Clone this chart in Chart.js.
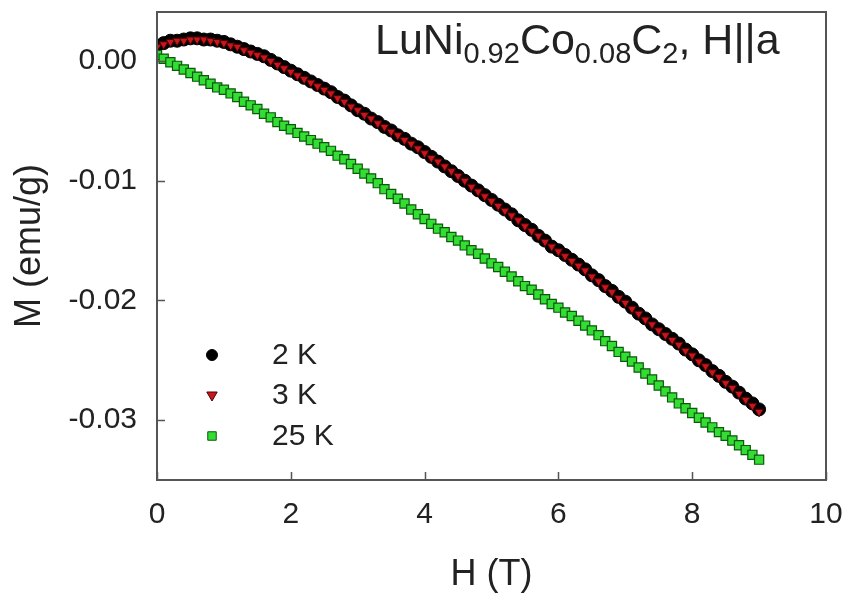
<!DOCTYPE html>
<html>
<head>
<meta charset="utf-8">
<title>LuNi0.92Co0.08C2 M(H)</title>
<script src="https://cdn.jsdelivr.net/npm/chart.js@4/dist/chart.umd.min.js"></script>
<style>
  html, body { margin: 0; padding: 0; background: #fff; }
  #wrap { width: 855px; height: 599px; }
</style>
</head>
<body>
<div id="wrap"><canvas id="mhChart" width="855" height="599"></canvas></div>
<script>
// field values (T), shared by the three sweeps
const fieldH = [
  0.0, 0.1, 0.2, 0.3, 0.4, 0.5, 0.6, 0.7, 0.8, 0.9,
  1.0, 1.1, 1.2, 1.3, 1.4, 1.5, 1.6, 1.7, 1.8, 1.9,
  2.0, 2.1, 2.2, 2.3, 2.4, 2.5, 2.6, 2.7, 2.8, 2.9,
  3.0, 3.1, 3.2, 3.3, 3.4, 3.5, 3.6, 3.7, 3.8, 3.9,
  4.0, 4.1, 4.2, 4.3, 4.4, 4.5, 4.6, 4.7, 4.8, 4.9,
  5.0, 5.1, 5.2, 5.3, 5.4, 5.5, 5.6, 5.7, 5.8, 5.9,
  6.0, 6.1, 6.2, 6.3, 6.4, 6.5, 6.6, 6.7, 6.8, 6.9,
  7.0, 7.1, 7.2, 7.3, 7.4, 7.5, 7.6, 7.7, 7.8, 7.9,
  8.0, 8.1, 8.2, 8.3, 8.4, 8.5, 8.6, 8.7, 8.8, 8.9,
  9.0
];

// M (emu/g) at 2 K
const m2K = [
  0.0013, 0.0015, 0.0017, 0.0017, 0.0018, 0.0019, 0.0019, 0.0018, 0.0018, 0.0017,
  0.0016, 0.0014, 0.0012, 0.0010, 0.0008, 0.0006, 0.0004, 0.0001, -0.0002, -0.0005,
  -0.0008, -0.0011, -0.0014, -0.0017, -0.0020, -0.0023, -0.0026, -0.0030, -0.0033, -0.0037,
  -0.0041, -0.0044, -0.0048, -0.0051, -0.0055, -0.0058, -0.0062, -0.0065, -0.0069, -0.0072,
  -0.0076, -0.0080, -0.0084, -0.0088, -0.0092, -0.0096, -0.0100, -0.0104, -0.0108, -0.0112,
  -0.0116, -0.0120, -0.0124, -0.0128, -0.0133, -0.0137, -0.0141, -0.0146, -0.0150, -0.0155,
  -0.0158, -0.0162, -0.0166, -0.0170, -0.0174, -0.0179, -0.0183, -0.0188, -0.0192, -0.0197,
  -0.0201, -0.0206, -0.0211, -0.0215, -0.0220, -0.0224, -0.0228, -0.0232, -0.0236, -0.0241,
  -0.0245, -0.0250, -0.0254, -0.0259, -0.0263, -0.0268, -0.0272, -0.0277, -0.0282, -0.0286,
  -0.0291
];

// M (emu/g) at 3 K
const m3K = [
  0.0012, 0.0014, 0.0016, 0.0017, 0.0017, 0.0018, 0.0018, 0.0018, 0.0017, 0.0016,
  0.0015, 0.0013, 0.0012, 0.0009, 0.0007, 0.0005, 0.0003, 0.0000, -0.0003, -0.0006,
  -0.0009, -0.0012, -0.0015, -0.0018, -0.0021, -0.0024, -0.0027, -0.0031, -0.0034, -0.0038,
  -0.0041, -0.0045, -0.0048, -0.0052, -0.0055, -0.0059, -0.0062, -0.0066, -0.0069, -0.0073,
  -0.0077, -0.0081, -0.0084, -0.0088, -0.0092, -0.0096, -0.0100, -0.0105, -0.0109, -0.0113,
  -0.0117, -0.0121, -0.0125, -0.0129, -0.0133, -0.0138, -0.0142, -0.0146, -0.0151, -0.0155,
  -0.0159, -0.0163, -0.0167, -0.0171, -0.0175, -0.0180, -0.0184, -0.0189, -0.0193, -0.0198,
  -0.0202, -0.0207, -0.0211, -0.0216, -0.0220, -0.0225, -0.0229, -0.0233, -0.0237, -0.0242,
  -0.0246, -0.0251, -0.0255, -0.0260, -0.0264, -0.0269, -0.0273, -0.0278, -0.0283, -0.0288,
  -0.0293
];

// M (emu/g) at 25 K
const m25K = [
  0.0005, 0.0002, -0.0001, -0.0004, -0.0007, -0.0010, -0.0013, -0.0016, -0.0019, -0.0022,
  -0.0024, -0.0027, -0.0030, -0.0034, -0.0037, -0.0040, -0.0044, -0.0047, -0.0051, -0.0054,
  -0.0057, -0.0060, -0.0063, -0.0066, -0.0069, -0.0072, -0.0075, -0.0079, -0.0082, -0.0086,
  -0.0090, -0.0094, -0.0098, -0.0102, -0.0107, -0.0111, -0.0115, -0.0119, -0.0124, -0.0128,
  -0.0132, -0.0136, -0.0140, -0.0143, -0.0147, -0.0150, -0.0154, -0.0158, -0.0161, -0.0165,
  -0.0169, -0.0172, -0.0176, -0.0180, -0.0184, -0.0188, -0.0191, -0.0195, -0.0199, -0.0203,
  -0.0206, -0.0210, -0.0213, -0.0217, -0.0221, -0.0225, -0.0229, -0.0234, -0.0238, -0.0243,
  -0.0247, -0.0251, -0.0256, -0.0261, -0.0266, -0.0271, -0.0276, -0.0281, -0.0286, -0.0290,
  -0.0294, -0.0298, -0.0302, -0.0306, -0.0310, -0.0313, -0.0317, -0.0321, -0.0325, -0.0329,
  -0.0333
];

const seriesNames = ["2 K", "3 K", "25 K"];
const xTicks = [0, 2, 4, 6, 8, 10];
const yTicks = [0, -0.01, -0.02, -0.03];

function toPoints(ys) {
  return fieldH.map((h, i) => ({ x: h, y: ys[i] }));
}

const FONT = "'Liberation Sans', Arial, sans-serif";
const PLOT = { left: 157, top: 12, right: 826, bottom: 480 };

// frame, inward ticks, legend and formula label
const decorations = {
  id: "decorations",
  afterDatasetsDraw(chart) {
    const ctx = chart.ctx;
    const a = chart.chartArea;
    const xs = chart.scales.x, ys = chart.scales.y;
    ctx.save();
    ctx.strokeStyle = "#555";
    ctx.lineWidth = 2;
    ctx.strokeRect(a.left, a.top, a.right - a.left, a.bottom - a.top);

    ctx.lineWidth = 1.5;
    ctx.beginPath();
    xTicks.forEach(v => {
      const px = Math.round(xs.getPixelForValue(v)) + 0.5;
      ctx.moveTo(px, a.bottom);
      ctx.lineTo(px, a.bottom - 8);
    });
    yTicks.forEach(v => {
      const py = Math.round(ys.getPixelForValue(v)) + 0.5;
      ctx.moveTo(a.left, py);
      ctx.lineTo(a.left + 8, py);
    });
    ctx.stroke();

    // legend
    const rows = [355, 395, 436];
    chart.data.datasets.forEach((ds, i) => {
      ctx.fillStyle = ds.backgroundColor;
      ctx.strokeStyle = ds.borderColor;
      ctx.lineWidth = 1;
      Chart.helpers.drawPoint(ctx, {
        pointStyle: ds.pointStyle,
        radius: ds.legendRadius,
        rotation: ds.rotation || 0,
        borderWidth: 1
      }, 212, rows[i]);
      ctx.fillStyle = "#222";
      ctx.font = "30px " + FONT;
      ctx.textBaseline = "middle";
      ctx.textAlign = "left";
      ctx.fillText(seriesNames[i], 272, rows[i] + 1);
    });

    // compound label with subscripts
    const parts = [
      ["LuNi", false], ["0.92", true], ["Co", false], ["0.08", true],
      ["C", false], ["2", true], [", H||a", false]
    ];
    let x = 375;
    const base = 54;
    ctx.fillStyle = "#222";
    ctx.textBaseline = "alphabetic";
    parts.forEach(([t, sub]) => {
      ctx.font = (sub ? "29px " : "43px ") + FONT;
      ctx.fillText(t, x, sub ? base + 9 : base);
      x += ctx.measureText(t).width;
    });
    ctx.restore();
  }
};

document.addEventListener("DOMContentLoaded", function () {
  const ctx = document.getElementById("mhChart").getContext("2d");

  new Chart(ctx, {
    type: "scatter",
    data: {
      datasets: [
        {
          label: seriesNames[0],
          data: toPoints(m2K),
          pointStyle: "circle",
          pointRadius: 6.5,
          legendRadius: 5.5,
          backgroundColor: "#000",
          borderColor: "#000",
          pointBorderWidth: 1,
          order: 2
        },
        {
          label: seriesNames[1],
          data: toPoints(m3K),
          pointStyle: "triangle",
          rotation: 180,
          pointRotation: 180,
          pointRadius: 5,
          legendRadius: 6,
          backgroundColor: "#c8161d",
          borderColor: "#4a0000",
          pointBorderWidth: 1,
          order: 1
        },
        {
          label: seriesNames[2],
          data: toPoints(m25K),
          pointStyle: "rect",
          pointRadius: 6.5,
          legendRadius: 6,
          backgroundColor: "#33dd33",
          borderColor: "#0a5a0a",
          pointBorderWidth: 1.2,
          order: 0
        }
      ]
    },
    options: {
      responsive: false,
      animation: false,
      events: [],
      layout: { padding: { top: PLOT.top, right: 855 - PLOT.right, left: 0, bottom: 0 } },
      plugins: { legend: { display: false }, tooltip: { enabled: false } },
      scales: {
        x: {
          type: "linear",
          min: 0,
          max: 10,
          afterFit(scale) {
            scale.height = 599 - PLOT.bottom;
            scale.paddingLeft = 0;
            scale.paddingRight = 0;
          },
          afterBuildTicks(scale) { scale.ticks = xTicks.map(v => ({ value: v })); },
          grid: { display: false, drawTicks: false },
          border: { display: false },
          ticks: {
            padding: 17,
            color: "#222",
            font: { family: FONT, size: 30 },
            callback: v => String(v)
          },
          title: {
            display: true,
            text: "H (T)",
            color: "#222",
            font: { family: FONT, size: 36 },
            padding: { top: 4, bottom: 2 }
          }
        },
        y: {
          type: "linear",
          min: -0.035,
          max: 0.0041,
          afterFit(scale) {
            scale.width = PLOT.left;
            scale.paddingTop = 0;
            scale.paddingBottom = 0;
          },
          afterBuildTicks(scale) { scale.ticks = yTicks.map(v => ({ value: v })); },
          grid: { display: false, drawTicks: false },
          border: { display: false },
          ticks: {
            padding: 20,
            color: "#222",
            font: { family: FONT, size: 30 },
            callback: v => v.toFixed(2)
          },
          title: {
            display: true,
            text: "M (emu/g)",
            color: "#222",
            font: { family: FONT, size: 36 },
            padding: { top: 8, bottom: 4 }
          }
        }
      }
    },
    plugins: [decorations]
  });
});
</script>
</body>
</html>
